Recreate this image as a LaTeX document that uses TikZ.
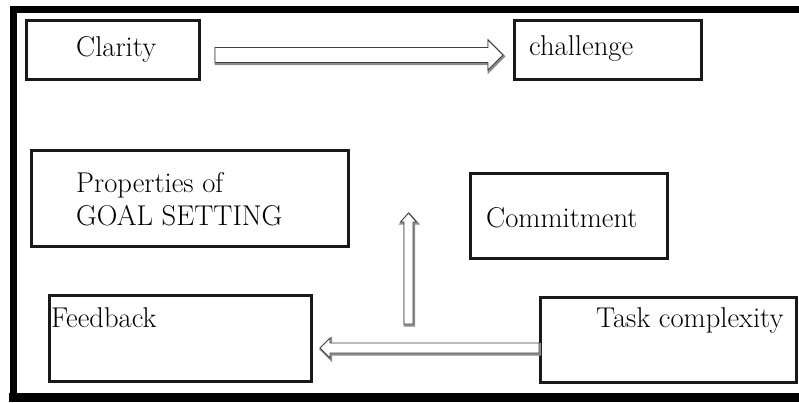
\documentclass[tikz,border=0pt]{standalone}
\usepackage{fontspec}
\usetikzlibrary{calc}

\tikzset{
  box/.style={draw=black!90, line width=3pt, rectangle, inner sep=0pt, fill=white},
  lbl/.style={inner sep=0pt, font=\rmfamily\fontsize{28.6}{34}\selectfont, text=black},
  arrowshadow/.style={draw=black!45, line width=2.4pt, line join=miter},
  arrowline/.style={draw=black!75, fill=white, line width=0.9pt, line join=miter},
  frameline/.style={draw=black, line cap=rect}
}

% hollow block arrow: #1 start, #2 tip, #3 half shaft width, #4 half head width, #5 head length
\newcommand\hollowpath[5]{%
  ($(#1)!#3!90:(#2)$) -- ($(hb)!#3!90:(#2)$) -- ($(hb)!#4!90:(#2)$) -- (#2)
  -- ($(hb)!#4!-90:(#2)$) -- ($(hb)!#3!-90:(#2)$) -- ($(#1)!#3!-90:(#2)$) -- cycle}
\newcommand\hollowarrow[5]{%
  \coordinate (hb) at ($(#2)!#5!(#1)$);
  \begin{scope}[transform canvas={shift={(0.8pt,-1.3pt)}}]
    \draw[arrowshadow] \hollowpath{#1}{#2}{#3}{#4}{#5};
  \end{scope}
  \filldraw[arrowline] \hollowpath{#1}{#2}{#3}{#4}{#5};
}

\begin{document}
\begin{tikzpicture}[x=1pt, y=-1pt]
  \useasboundingbox (0,0) rectangle (799,402);

  % outer frame (open on the right)
  \draw[frameline, line width=7pt] (810,9.5) -- (13.5,9.5) -- (13.5,397);
  \draw[frameline, line width=9pt] (13.5,397.5) -- (810,397.5);

  % boxes
  \node[box, minimum width=173pt, minimum height=59pt] (clar) at (113,50) {};
  \node[box, minimum width=187pt, minimum height=59pt] (chal) at (608,50) {};
  \node[box, minimum width=317pt, minimum height=96pt] (prop) at (190,198.5) {};
  \node[box, minimum width=197pt, minimum height=85pt] (comm) at (569,216) {};
  \node[box, minimum width=256pt, minimum height=85pt] (task) at (668.5,340) {};
  \node[box, minimum width=262pt, minimum height=86pt] (feed) at (180.5,338.5) {};

  % labels
  \node[lbl, anchor=base west] (clarT) at (76,56) {Clarity};
  \node[lbl, anchor=base west] (chalT) at (529,55) {challenge};
  \node[lbl, anchor=base west] (propA) at (76,192) {Properties of};
  \node[lbl, anchor=base west] (propB) at (76,225) {GOAL SETTING};
  \node[lbl, anchor=base west] (commT) at (486,227) {Commitment};
  \node[lbl, anchor=base west] (taskT) at (596,327) {Task complexity};
  \node[lbl, anchor=base west] (feedT) at (51,327) {Feedback};

  % connectors
  \coordinate (a1s) at ($(clar.east)+(14,5)$);
  \coordinate (a1e) at ($(chal.west)+(-10,5)$);
  \hollowarrow{a1s}{a1e}{7.5pt}{15pt}{15pt}

  \coordinate (a2s) at ($(task.west)+(0,8)$);
  \coordinate (a2e) at ($(feed.east)+(7,9.5)$);
  \hollowarrow{a2s}{a2e}{5pt}{10pt}{10pt}

  \coordinate (a3s) at (408.5,324);
  \coordinate (a3e) at (408.5,213);
  \hollowarrow{a3s}{a3e}{4.5pt}{8pt}{9pt}
\end{tikzpicture}
\end{document}
